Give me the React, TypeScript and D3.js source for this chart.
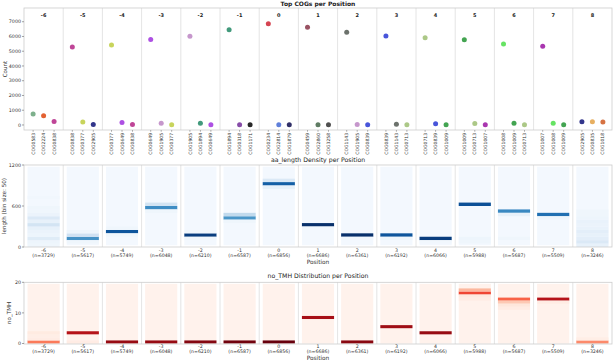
import React from "react";
import * as d3 from "d3";

// positions and sample sizes
const positions = ["-6", "-5", "-4", "-3", "-2", "-1", "0", "1", "2", "3", "4", "5", "6", "7", "8"];
const sampleSizes = [3729, 5617, 5749, 6048, 6210, 6587, 6856, 6686, 6361, 6192, 6066, 5988, 5687, 5509, 3246];

// top 3 COGs per position
const topCogs = [
  ["COG0583", "COG2224", "COG0838"],
  ["COG0838", "COG0377", "COG2905"],
  ["COG0377", "COG0649", "COG0838"],
  ["COG0649", "COG1905", "COG0377"],
  ["COG1905", "COG1894", "COG0649"],
  ["COG1894", "COG0318", "COG1171"],
  ["COG0234", "COG2814", "COG1879"],
  ["COG0459", "COG2860", "COG3258"],
  ["COG1143", "COG1905", "COG0839"],
  ["COG0839", "COG1143", "COG0713"],
  ["COG0713", "COG0839", "COG1009"],
  ["COG1009", "COG0713", "COG1007"],
  ["COG1008", "COG1009", "COG0713"],
  ["COG1007", "COG1008", "COG1009"],
  ["COG2905", "COG0835", "COG1018"],
];
const topCounts = [
  [750, 620, 230],
  [5280, 200, 30],
  [5430, 170, 30],
  [5800, 110, 20],
  [6010, 120, 10],
  [6460, 10, 10],
  [6870, 10, 10],
  [6620, 10, 10],
  [6280, 30, 10],
  [6030, 50, 10],
  [5910, 90, 10],
  [5780, 100, 20],
  [5490, 120, 20],
  [5330, 110, 10],
  [220, 220, 210],
];
const cogColors: Record<string, string> = {
  COG0583: "#6fa77f", COG2224: "#e0501c", COG0838: "#b8318c", COG0377: "#c2cf4a",
  COG2905: "#1c1f7e", COG0649: "#a43de0", COG1905: "#c08cc6", COG1894: "#2e8f6e",
  COG0318: "#7a3a9e", COG1171: "#111111", COG0234: "#d0303e", COG2814: "#4f72d6",
  COG1879: "#1b1a58", COG0459: "#8e4052", COG2860: "#4e6e52", COG3258: "#3c3c3c",
  COG1143: "#5c635c", COG0839: "#3443d6", COG0713: "#a3c27a", COG1009: "#2f9a3e",
  COG1007: "#a020a6", COG1008: "#55e052", COG0835: "#e4a650", COG1018: "#d2632e",
};
const countTicks = [0, 1000, 2000, 3000, 4000, 5000, 6000, 7000];

// aa_length density: [bin start, relative density]
const lengthBins = [
  [[0, 0.04], [50, 0.05], [100, 0.12], [150, 0.05], [200, 0.06], [250, 0.08], [300, 0.18], [350, 0.08], [400, 0.14], [450, 0.06], [500, 0.04], [550, 0.04], [700, 0.03]],
  [[100, 0.62], [150, 0.2], [200, 0.05], [50, 0.04]],
  [[200, 0.86], [150, 0.04], [250, 0.04]],
  [[550, 0.64], [600, 0.18], [500, 0.04]],
  [[150, 0.95], [100, 0.04], [200, 0.04]],
  [[400, 0.6], [450, 0.26], [350, 0.04]],
  [[900, 0.82], [950, 0.14], [850, 0.08]],
  [[300, 1.0], [250, 0.03]],
  [[150, 1.0], [100, 0.03]],
  [[150, 0.86], [100, 0.04]],
  [[100, 0.95], [50, 0.03]],
  [[600, 0.88], [100, 0.05], [50, 0.04]],
  [[500, 0.66], [450, 0.08], [100, 0.04]],
  [[450, 0.76], [400, 0.05]],
  [[0, 0.08], [50, 0.14], [100, 0.1], [150, 0.08], [200, 0.1], [250, 0.07], [300, 0.06], [350, 0.07], [400, 0.05], [450, 0.04], [500, 0.04]],
];
const lengthTicks = [0, 600, 1200];

// no_TMH distribution: [bin start, relative density]
const tmhBins = [
  [[0, 0.45], [1, 0.05], [2, 0.04], [3, 0.06]],
  [[3, 0.82], [0, 0.05]],
  [[0, 0.9]],
  [[0, 0.9]],
  [[0, 0.94]],
  [[0, 0.98]],
  [[0, 1.0]],
  [[8, 0.86]],
  [[0, 0.93]],
  [[5, 0.88]],
  [[3, 0.9]],
  [[16, 0.6], [17, 0.26], [15, 0.07], [14, 0.05]],
  [[14, 0.52], [13, 0.2], [12, 0.08], [11, 0.05]],
  [[14, 0.82], [13, 0.05]],
  [[0, 0.4], [1, 0.04]],
];
const tmhTicks = [0, 10, 20];

const W = 615;
const H = 364;
const left = 24;
const right = 612;
const font = "DejaVu Sans, sans-serif";
const frame = "#cccccc";
const textCol = "#333333";

const facetX = d3.scaleBand<string>().domain(positions).range([left, right]).padding(0);
const colX = d3.scaleBand<string>().domain(positions).range([left, right]).paddingInner(0.18).paddingOuter(0.09);
const dotX = d3.scalePoint<number>().domain([0, 1, 2]).range([0, facetX.bandwidth()]).padding(0.87);

const countY = d3.scaleLinear().domain([-340, 7930]).range([130, 8]);
const lenY = d3.scaleLinear().domain([0, 1200]).range([247, 165]);
const tmhY = d3.scaleLinear().domain([0, 20]).range([343.5, 282.3]);

const blues = d3.scaleSequential(d3.interpolateBlues).domain([0, 1]);
const reds = d3.scaleSequential(d3.interpolateReds).domain([0, 1]);

function Separators({ y0, y1 }: { y0: number; y1: number }) {
  return (
    <g>
      {positions.slice(1).map((p) => (
        <line key={p} x1={facetX(p)} x2={facetX(p)} y1={y0} y2={y1} stroke="#dddddd" strokeWidth={0.8} />
      ))}
      <rect x={left} y={y0} width={right - left} height={y1 - y0} fill="none" stroke={frame} strokeWidth={0.8} />
    </g>
  );
}

function YAxis({ scale, ticks, label, lx }: { scale: d3.ScaleLinear<number, number>; ticks: number[]; label: string; lx: number }) {
  const r = scale.range();
  const mid = (r[0] + r[1]) / 2;
  return (
    <g fontFamily={font} fill={textCol}>
      {ticks.map((t) => (
        <g key={t}>
          <line x1={left - 2} x2={left} y1={scale(t)} y2={scale(t)} stroke="#666" strokeWidth={0.6} />
          <text x={left - 3} y={scale(t)} dy="0.35em" textAnchor="end" fontSize={4.8}>{t}</text>
        </g>
      ))}
      <text transform={`translate(${lx},${mid}) rotate(-90)`} textAnchor="middle" fontSize={5.6}>{label}</text>
    </g>
  );
}

function XPositionLabels({ y }: { y: number }) {
  return (
    <g fontFamily={font} fill={textCol} textAnchor="middle">
      {positions.map((p, i) => (
        <g key={p}>
          <text x={facetX(p)! + facetX.bandwidth() / 2} y={y} fontSize={4.7}>{p}</text>
          <text x={facetX(p)! + facetX.bandwidth() / 2} y={y + 4.7} fontSize={4.7}>(n={sampleSizes[i]})</text>
        </g>
      ))}
      <text x={(left + right) / 2} y={y + 12.3} fontSize={5.8}>Position</text>
    </g>
  );
}

export default function App() {
  return (
    <svg width={W} height={H} style={{ position: "absolute", left: 0, top: 0, background: "#fff" }}>
      {/* top panel: top COGs */}
      <text x={318} y={6.3} textAnchor="middle" fontFamily={font} fontWeight="bold" fontSize={6} fill="#222">Top COGs per Position</text>
      <Separators y0={8} y1={130} />
      <YAxis scale={countY} ticks={countTicks} label="Count" lx={7} />
      {positions.map((p, i) => {
        const fx = facetX(p)!;
        return (
          <g key={p}>
            <text x={fx + facetX.bandwidth() / 2} y={17} textAnchor="middle" fontFamily={font} fontWeight="bold" fontSize={5} fill="#222">{p}</text>
            {topCogs[i].map((c, j) => (
              <g key={c}>
                <circle cx={fx + dotX(j)!} cy={countY(topCounts[i][j])} r={2.5} fill={cogColors[c]} fillOpacity={0.9} />
                <line x1={fx + dotX(j)!} x2={fx + dotX(j)!} y1={130} y2={131.8} stroke="#666" strokeWidth={0.5} />
                <text transform={`translate(${fx + dotX(j)! + 1.6},${133}) rotate(-90)`} textAnchor="end" fontFamily={font} fontSize={4.5} fill={textCol}>{c}</text>
              </g>
            ))}
          </g>
        );
      })}

      {/* middle panel: aa_length */}
      <text x={318} y={162} textAnchor="middle" fontFamily={font} fontSize={6.2} fill="#222">aa_length Density per Position</text>
      {positions.map((p, i) => (
        <g key={p}>
          <rect x={colX(p)} y={lenY(1175)} width={colX.bandwidth()} height={lenY(25) - lenY(1175)} fill={blues(0.02)} />
          {lengthBins[i].map(([b, v]) => (
            <rect key={b} x={colX(p)} y={lenY(b + 50)} width={colX.bandwidth()} height={lenY(b) - lenY(b + 50)} fill={blues(v)} />
          ))}
        </g>
      ))}
      <Separators y0={165} y1={247} />
      <YAxis scale={lenY} ticks={lengthTicks} label="length (bin size: 50)" lx={6} />
      <XPositionLabels y={252} />

      {/* bottom panel: no_TMH */}
      <text x={318} y={278} textAnchor="middle" fontFamily={font} fontSize={6.2} fill="#222">no_TMH Distribution per Position</text>
      {positions.map((p, i) => (
        <g key={p}>
          <rect x={colX(p)} y={tmhY(19.5)} width={colX.bandwidth()} height={tmhY(0) - tmhY(19.5)} fill={reds(0.015)} />
          {tmhBins[i].map(([b, v]) => (
            <rect key={b} x={colX(p)} y={tmhY(b + 1)} width={colX.bandwidth()} height={tmhY(b) - tmhY(b + 1)} fill={reds(v)} />
          ))}
        </g>
      ))}
      <Separators y0={282.3} y1={344} />
      <YAxis scale={tmhY} ticks={tmhTicks} label="no_TMH" lx={11} />
      <XPositionLabels y={348} />
    </svg>
  );
}
